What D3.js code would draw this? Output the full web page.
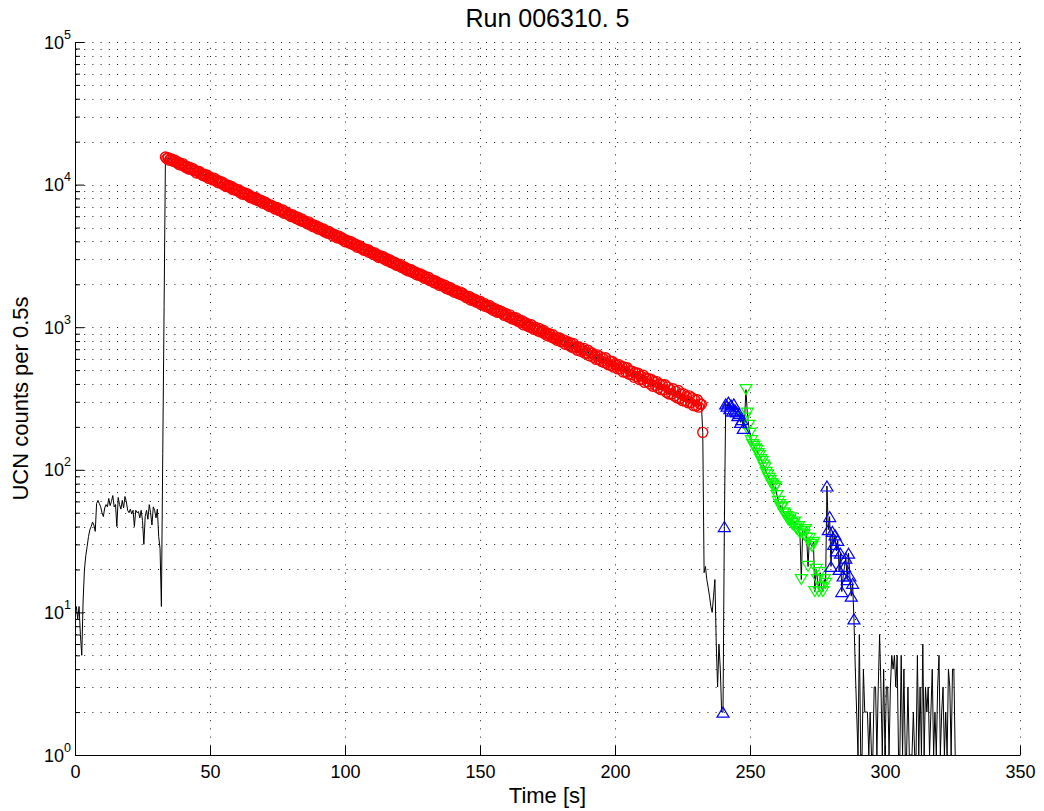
<!DOCTYPE html>
<html>
<head>
<meta charset="utf-8">
<script src="https://cdn.jsdelivr.net/npm/d3@7"></script>
<style>
  html, body { margin: 0; padding: 0; background: #fff; }
  svg { display: block; font-family: "Liberation Sans", Arial, Helvetica, sans-serif; }
</style>
</head>
<body>
<svg id="chart" width="1044" height="811"></svg>
<script>
// ---- data: UCN counts per 0.5 s time bin ----
const binWidth = 0.5;

// background before the valve opens (t = 0 ... 33 s)
const preStart = 0;
const preCounts = [
  10, 11, 9, 11, 7, 5, 12, 20, 25, 29,
  34, 38, 40, 43, 41, 37, 58, 61, 58, 55,
  50, 47, 54, 57, 55, 63, 56, 60, 66, 55,
  57, 40, 64, 57, 53, 61, 54, 65, 60, 52,
  50, 53, 49, 52, 40, 52, 50, 51, 46, 52,
  44, 30, 47, 52, 45, 57, 50, 41, 55, 52,
  46, 53, 34, 28, 11, 130, 1400
];

// storage decay (red circles, t = 33.5 ... 232.5 s)
const redStart = 33.5;
const redCounts = [
  15600, 15210, 15440, 14830, 15210, 14830, 14540, 14830, 14320, 14390,
  13820, 14100, 13680, 14020, 13540, 13200, 13400, 12870, 13200, 12810,
  13000, 12490, 12550, 12060, 12360, 12360, 11880, 11880, 11520, 11810,
  11410, 11630, 11060, 11290, 11060, 10790, 11110, 10630, 10730, 10310,
  10570, 10260, 10410, 9950, 10100, 9700, 9800, 9850, 9510, 9700,
  9220, 9410, 9130, 9130, 9220, 8820, 8950, 8550, 8770, 8590,
  8680, 8340, 8460, 8090, 8170, 8170, 7890, 8090, 7770, 7850,
  7610, 7730, 7390, 7540, 7530, 7240, 7240, 7020, 7200, 6990,
  7020, 6740, 6850, 6880, 6580, 6680, 6480, 6640, 6280, 6350,
  6380, 6160, 6160, 5970, 6150, 5940, 5970, 5770, 5910, 5680,
  5570, 5740, 5510, 5570, 5460, 5320, 5480, 5240, 5290, 5080,
  5190, 5030, 5130, 4880, 5000, 4880, 4780, 4880, 4660, 4730,
  4570, 4690, 4530, 4550, 4370, 4480, 4370, 4240, 4370, 4200,
  4280, 4110, 4150, 3970, 4070, 3990, 3890, 3990, 3830, 3890,
  3750, 3810, 3640, 3720, 3710, 3570, 3590, 3460, 3530, 3430,
  3500, 3340, 3390, 3330, 3230, 3320, 3190, 3230, 3080, 3160,
  3070, 3130, 3010, 3050, 2920, 2950, 2970, 2840, 2890, 2800,
  2840, 2720, 2770, 2690, 2760, 2620, 2640, 2650, 2530, 2580,
  2480, 2530, 2530, 2420, 2430, 2440, 2330, 2380, 2310, 2360,
  2270, 2310, 2200, 2240, 2180, 2230, 2120, 2130, 2140, 2050,
  2110, 2030, 2050, 1960, 2020, 1970, 1930, 1970, 1870, 1910,
  1840, 1890, 1810, 1830, 1760, 1810, 1760, 1720, 1770, 1690,
  1730, 1660, 1670, 1610, 1620, 1640, 1550, 1590, 1540, 1570,
  1500, 1530, 1480, 1520, 1440, 1450, 1470, 1400, 1420, 1380,
  1420, 1350, 1370, 1310, 1350, 1300, 1270, 1310, 1270, 1290,
  1240, 1210, 1250, 1220, 1180, 1220, 1160, 1140, 1170, 1130,
  1160, 1100, 1120, 1080, 1110, 1040, 1070, 1070, 1020, 1040,
  1000, 1040, 990, 965, 1000, 970, 940, 980, 925, 940,
  950, 895, 910, 870, 905, 885, 850, 885, 835, 840,
  810, 840, 840, 790, 790, 815, 760, 785, 790, 745,
  775, 725, 770, 715, 730, 690, 730, 715, 675, 695,
  710, 655, 660, 690, 630, 660, 660, 615, 635, 595,
  640, 595, 620, 575, 605, 565, 610, 560, 545, 580,
  540, 575, 525, 555, 540, 510, 545, 510, 530, 485,
  525, 485, 520, 470, 495, 465, 490, 445, 480, 450,
  475, 430, 455, 430, 460, 410, 440, 415, 435, 400,
  430, 385, 415, 390, 415, 375, 400, 365, 395, 365,
  395, 350, 380, 340, 365, 340, 370, 330, 355, 320,
  360, 315, 340, 305, 340, 305, 325, 295, 330, 295,
  320, 282, 310, 280, 310, 275, 290, 288, 183
];

// gap after the storage period (t = 233 ... 239.5 s)
const gapStart = 233;
const gapCounts = [19, 21, 17, 15, 13, 11, 10, 13, 17, 6, 3, 6, 4, 2];

// first blue interval (t = 240 ... 247.5 s)
const blueStartA = 240;
const blueCountsA = [2, 40, 290, 280, 298, 268, 285, 258, 290, 262, 255, 240, 248, 215, 225, 195];

// green interval (t = 248 ... 278 s)
const greenStart = 248;
const greenCounts = [
  230, 365, 250, 205, 180, 160, 150, 146, 140, 137,
  130, 126, 118, 114, 108, 103, 96, 92, 87, 84,
  80, 78, 74, 76, 66, 60, 57, 54, 55, 50,
  49, 47, 45, 44, 46, 42, 41, 43, 39, 38,
  40, 36, 17, 37, 35, 38, 33, 21, 33, 30,
  29, 31, 14, 20, 17, 14, 19, 15, 14, 17,
  16
];

// second blue interval (t = 278.5 ... 288.5 s)
const blueStartB = 278.5;
const blueCountsB = [77, 38, 47, 21, 37, 30, 35, 27, 32, 20, 26, 14, 18, 21, 24, 17, 26, 18, 13, 16, 9];

// remaining tail (t = 289 ... 326 s)
const tailStart = 289;
const tailCounts = [
  4, 2, 1, 7, 1, 1, 4, 2, 2, 2,
  1, 2, 1, 1, 3, 3, 1, 3, 7, 3,
  1, 4, 1, 3, 3, 1, 3, 5, 4, 5,
  3, 5, 1, 1, 5, 1, 4, 1, 1, 3,
  1, 1, 1, 2, 1, 1, 5, 1, 3, 1,
  6, 1, 3, 2, 3, 1, 2, 4, 1, 2,
  1, 3, 5, 1, 2, 3, 1, 2, 1, 4,
  3, 1, 4, 4, 1
];

// ---- axes setup ----
const xTicks = [0, 50, 100, 150, 200, 250, 300, 350];
const yTicks = [1, 10, 100, 1000, 10000, 100000];
const yTickExponents = ["0", "1", "2", "3", "4", "5"];
const titleText = "Run 006310. 5";
const xLabelText = "Time [s]";
const yLabelText = "UCN counts per 0.5s";

const plot = { left: 75, right: 1020, top: 42, bottom: 755 };

const x = d3.scaleLinear().domain([0, 350]).range([plot.left, plot.right]);
const y = d3.scaleLog().domain([1, 1e5]).range([plot.bottom, plot.top]);

// minor decade ticks 2..9 within each decade
const yMinor = [];
for (let i = 0; i < yTicks.length - 1; i++) {
  for (let m = 2; m <= 9; m++) yMinor.push(m * yTicks[i]);
}

const toPoints = (start, counts) => counts.map((c, i) => ({ t: start + i * binWidth, c }));

const prePts = toPoints(preStart, preCounts);
const redPts = toPoints(redStart, redCounts);
const gapPts = toPoints(gapStart, gapCounts);
const blueAPts = toPoints(blueStartA, blueCountsA);
const greenPts = toPoints(greenStart, greenCounts);
const blueBPts = toPoints(blueStartB, blueCountsB);
const tailPts = toPoints(tailStart, tailCounts);
const allPts = [].concat(prePts, redPts, gapPts, blueAPts, greenPts, blueBPts, tailPts);

const svg = d3.select("#chart");

svg.append("defs").append("clipPath").attr("id", "plotClip")
  .append("rect")
  .attr("x", plot.left).attr("y", plot.top - 6)
  .attr("width", plot.right - plot.left + 6).attr("height", plot.bottom - plot.top + 6);

// ---- dotted grid ----
const grid = svg.append("g").attr("stroke", "#1a1a1a").attr("stroke-width", 1)
  .attr("stroke-dasharray", "1,7.2").attr("fill", "none");

grid.selectAll("line.h")
  .data(yTicks.concat(yMinor).filter(v => v > 1))
  .join("line")
  .attr("class", "h")
  .attr("x1", plot.left + 1).attr("x2", plot.right + 1)
  .attr("y1", d => Math.round(y(d)) + 0.5)
  .attr("y2", d => Math.round(y(d)) + 0.5);

grid.selectAll("line.v")
  .data(xTicks.filter(v => v > 0))
  .join("line")
  .attr("class", "v")
  .attr("x1", d => Math.round(x(d)) + 0.5)
  .attr("x2", d => Math.round(x(d)) + 0.5)
  .attr("y1", plot.bottom - 1).attr("y2", plot.top);

// ---- data line and markers ----
const layer = svg.append("g").attr("clip-path", "url(#plotClip)");

const line = d3.line()
  .defined(d => d.c > 0)
  .x(d => x(d.t))
  .y(d => y(d.c));

layer.append("path")
  .datum(allPts)
  .attr("fill", "none")
  .attr("stroke", "#000")
  .attr("stroke-width", 1)
  .attr("d", line);

layer.append("g")
  .selectAll("circle")
  .data(redPts)
  .join("circle")
  .attr("cx", d => x(d.t))
  .attr("cy", d => y(d.c))
  .attr("r", 5)
  .attr("fill", "none")
  .attr("stroke", "#ff0000")
  .attr("stroke-width", 1.4);

const triW = 12, triH = 10;
const triUp = d => {
  const cx = x(d.t), cy = y(d.c);
  return `M${cx},${cy - triH / 2}L${cx + triW / 2},${cy + triH / 2}L${cx - triW / 2},${cy + triH / 2}Z`;
};
const triDown = d => {
  const cx = x(d.t), cy = y(d.c);
  return `M${cx},${cy + triH / 2}L${cx + triW / 2},${cy - triH / 2}L${cx - triW / 2},${cy - triH / 2}Z`;
};

layer.append("g")
  .selectAll("path")
  .data(greenPts)
  .join("path")
  .attr("d", triDown)
  .attr("fill", "none")
  .attr("stroke", "#00ff00")
  .attr("stroke-width", 1.2);

layer.append("g")
  .selectAll("path")
  .data(blueAPts.concat(blueBPts))
  .join("path")
  .attr("d", triUp)
  .attr("fill", "none")
  .attr("stroke", "#0000ff")
  .attr("stroke-width", 1.2);

// ---- axes ----
const axisY = svg.append("g")
  .attr("transform", `translate(${plot.left},0)`)
  .call(d3.axisLeft(y).tickValues(yTicks).tickSize(-9).tickSizeOuter(0).tickFormat(""));

const axisYMinor = svg.append("g")
  .attr("transform", `translate(${plot.left},0)`)
  .call(d3.axisLeft(y).tickValues(yMinor).tickSize(-5).tickSizeOuter(0).tickFormat(""));
axisYMinor.select(".domain").remove();

const axisX = svg.append("g")
  .attr("transform", `translate(0,${plot.bottom})`)
  .call(d3.axisBottom(x).tickValues(xTicks).tickSize(-9).tickSizeOuter(0).tickPadding(10).tickFormat(d3.format("d")));

[axisY, axisYMinor, axisX].forEach(g => {
  g.selectAll("line").attr("stroke", "#000");
  g.selectAll(".domain").attr("stroke", "#000");
});
axisX.selectAll("text")
  .attr("font-size", 18)
  .attr("font-family", "Liberation Sans, Arial, sans-serif")
  .attr("fill", "#000");

// y tick labels as powers of ten
const yLabels = svg.append("g")
  .attr("font-size", 18)
  .attr("fill", "#000")
  .attr("text-anchor", "end");
yTicks.forEach((v, i) => {
  const t = yLabels.append("text")
    .attr("x", plot.left - 4)
    .attr("y", y(v) + 6.5);
  t.append("tspan").text("10");
  t.append("tspan").attr("dy", -10).attr("font-size", 12.5).text(yTickExponents[i]);
});

// ---- titles ----
svg.append("text")
  .attr("x", (plot.left + plot.right) / 2)
  .attr("y", 27)
  .attr("text-anchor", "middle")
  .attr("font-size", 25)
  .attr("fill", "#000")
  .text(titleText);

svg.append("text")
  .attr("x", (plot.left + plot.right) / 2)
  .attr("y", 803)
  .attr("text-anchor", "middle")
  .attr("font-size", 22)
  .attr("fill", "#000")
  .text(xLabelText);

svg.append("text")
  .attr("transform", `translate(28,${(plot.top + plot.bottom) / 2}) rotate(-90)`)
  .attr("text-anchor", "middle")
  .attr("font-size", 22)
  .attr("fill", "#000")
  .text(yLabelText);
</script>
</body>
</html>
